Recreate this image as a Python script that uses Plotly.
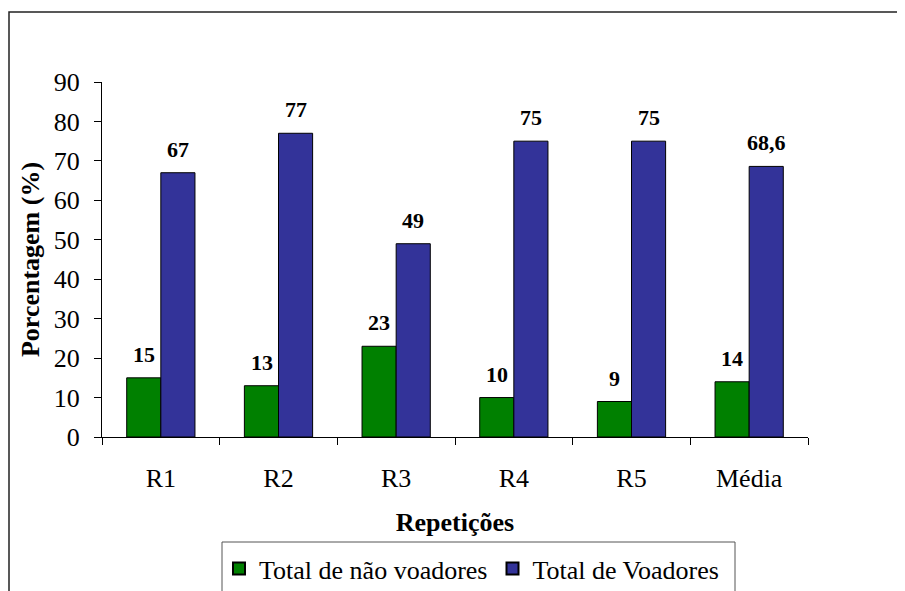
import plotly.graph_objects as go

categories = ["R1", "R2", "R3", "R4", "R5", "Média"]
nao_voadores = [15, 13, 23, 10, 9, 14]
voadores = [67, 77, 49, 75, 75, 68.6]
series_names = ["Total de não voadores", "Total de Voadores"]
y_ticks = [0, 10, 20, 30, 40, 50, 60, 70, 80, 90]

FONT = "Liberation Serif, Times New Roman, serif"
GREEN = "#008000"
BLUE = "#333399"

# page body has an 8px default margin; compensate so the picture lands in place
OFF = 8
W, H = 905, 591
PL, PR, PT, PB = 102, 808, 82, 437   # target plot area in screen pixels
L = PL - OFF
T = PT - OFF
pw = PR - PL
ph = PB - PT
R = W - L - pw
B = H - T - ph

def px2x(x):
    return (x - PL) / pw

def px2y(y):
    return (PB - y) / ph

fig = go.Figure()
fig.add_trace(go.Bar(x=categories, y=nao_voadores, name=series_names[0],
                     marker=dict(color=GREEN, line=dict(color="black", width=1))))
fig.add_trace(go.Bar(x=categories, y=voadores, name=series_names[1],
                     marker=dict(color=BLUE, line=dict(color="black", width=1))))

def fmt(v):
    return str(v).replace(".", ",")

annotations = []
for c, v in zip(categories, nao_voadores):
    annotations.append(dict(x=c, y=v, text=fmt(v), showarrow=False, xshift=-17,
                            yanchor="bottom", yshift=9,
                            font=dict(family=FONT, size=22, color="black", weight="bold")))
for c, v in zip(categories, voadores):
    annotations.append(dict(x=c, y=v, text=fmt(v), showarrow=False, xshift=17,
                            yanchor="bottom", yshift=9,
                            font=dict(family=FONT, size=22, color="black", weight="bold")))

shapes = [
    # outer frame
    dict(type="rect", xref="paper", yref="paper",
         x0=px2x(9), x1=px2x(960), y0=px2y(650), y1=px2y(12),
         line=dict(color="#222222", width=1.5), layer="below"),
    # legend box
    dict(type="rect", xref="paper", yref="paper",
         x0=px2x(222), x1=px2x(735), y0=px2y(620), y1=px2y(542),
         line=dict(color="#555555", width=1), layer="below"),
]

fig.update_layout(
    width=W, height=H,
    margin=dict(l=L, r=R, t=T, b=B, autoexpand=False),
    paper_bgcolor="white", plot_bgcolor="white",
    barmode="group", bargap=0.42, bargroupgap=0,
    font=dict(family=FONT, color="black"),
    showlegend=True,
    legend=dict(orientation="h", x=px2x(219), y=px2y(545), xanchor="left", yanchor="top",
                font=dict(family=FONT, size=26, color="black"),
                bgcolor="rgba(0,0,0,0)", borderwidth=0, traceorder="normal",
                itemsizing="constant"),
    annotations=annotations,
    shapes=shapes,
)

fig.update_xaxes(
    showline=True, linecolor="black", linewidth=1,
    ticks="outside", tickson="boundaries", ticklen=7, tickcolor="black",
    tickfont=dict(family=FONT, size=26, color="black"),
    ticklabelstandoff=18,
    title=dict(text="Repetições", font=dict(family=FONT, size=26, color="black", weight="bold"),
               standoff=20),
    showgrid=False, automargin=False,
)
fig.update_yaxes(
    range=[0, 90], tickvals=y_ticks,
    showline=True, linecolor="black", linewidth=1,
    ticks="outside", ticklen=7, tickcolor="black",
    tickfont=dict(family=FONT, size=26, color="black"),
    ticklabelstandoff=9,
    title=dict(text="Porcentagem (%)", font=dict(family=FONT, size=26, color="black", weight="bold"),
               standoff=6),
    showgrid=False, zeroline=False, automargin=False,
)

fig.write_html("out.html")
